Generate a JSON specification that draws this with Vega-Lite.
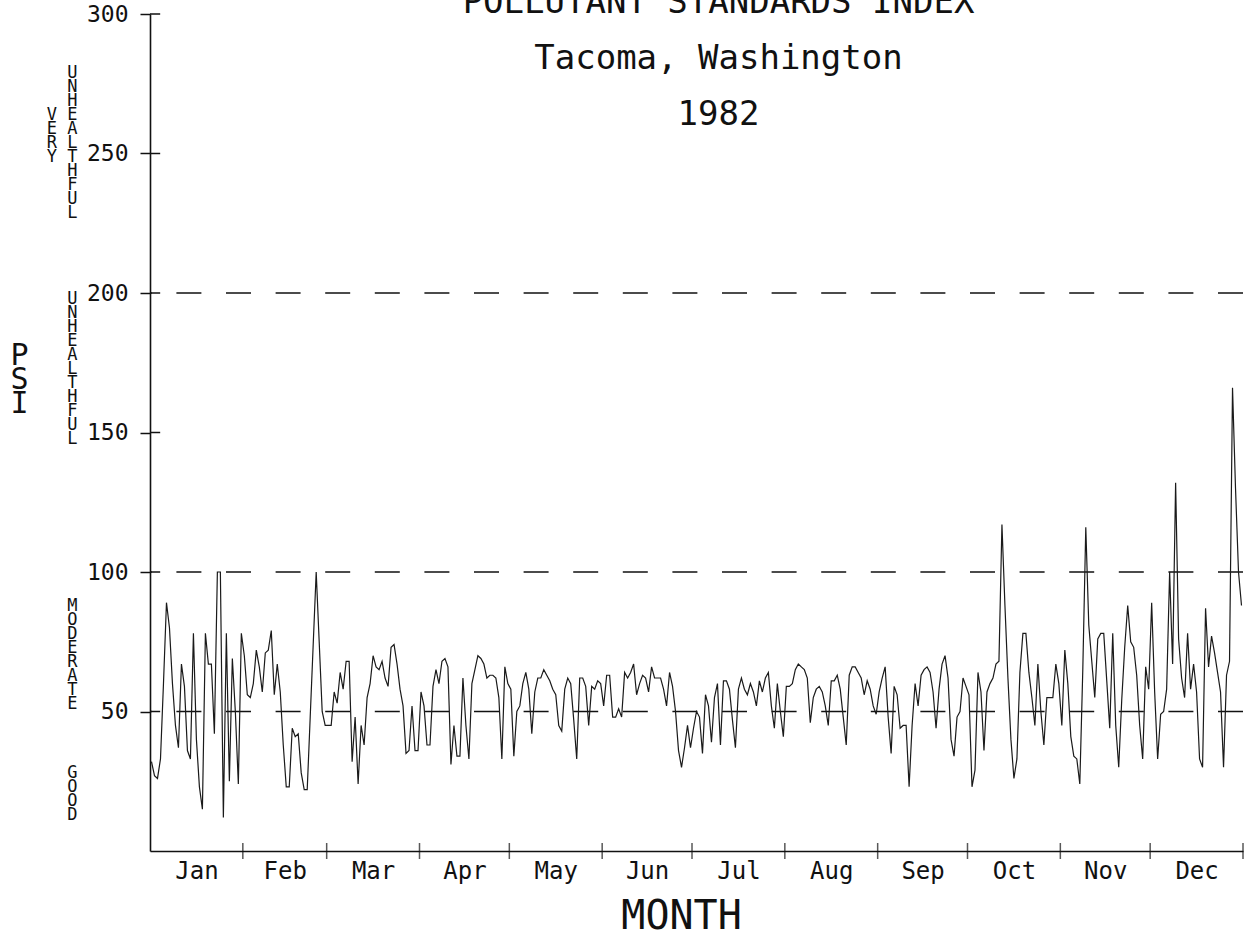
{
  "$schema": "https://vega.github.io/schema/vega-lite/v6.json",
  "width": 1093,
  "height": 837,
  "autosize": {"type": "none"},
  "padding": {"left": 150, "top": 14, "right": 3, "bottom": 87},
  "background": "white",
  "config": {
    "view": {"stroke": null},
    "font": "DejaVu Sans Mono",
    "axis": {"grid": false, "labelColor": "#111", "titleColor": "#111", "domainColor": "#111", "tickColor": "#111", "labelFontWeight": "normal", "titleFontWeight": "normal"}
  },
  "title": {
    "text": ["POLLUTANT STANDARDS INDEX", "Tacoma, Washington", "1982"],
    "font": "DejaVu Sans Mono",
    "fontSize": 34,
    "fontWeight": "normal",
    "color": "#111",
    "lineHeight": 56,
    "anchor": "middle",
    "frame": "group",
    "baseline": "bottom",
    "offset": -163,
    "dx": 22
  },
  "datasets": {
    "psi": [
      {"day":1,"psi":32},{"day":2,"psi":27},{"day":3,"psi":26},{"day":4,"psi":33},{"day":5,"psi":60},{"day":6,"psi":89},{"day":7,"psi":80},{"day":8,"psi":60},{"day":9,"psi":45},{"day":10,"psi":37},
      {"day":11,"psi":67},{"day":12,"psi":59},{"day":13,"psi":36},{"day":14,"psi":33},{"day":15,"psi":78},{"day":16,"psi":40},{"day":17,"psi":23},{"day":18,"psi":15},{"day":19,"psi":78},{"day":20,"psi":67},
      {"day":21,"psi":67},{"day":22,"psi":42},{"day":23,"psi":100},{"day":24,"psi":100},{"day":25,"psi":12},{"day":26,"psi":78},{"day":27,"psi":25},{"day":28,"psi":69},{"day":29,"psi":50},{"day":30,"psi":24},
      {"day":31,"psi":78},{"day":32,"psi":70},{"day":33,"psi":56},{"day":34,"psi":55},{"day":35,"psi":60},{"day":36,"psi":72},{"day":37,"psi":66},{"day":38,"psi":57},{"day":39,"psi":71},{"day":40,"psi":72},
      {"day":41,"psi":79},{"day":42,"psi":56},{"day":43,"psi":67},{"day":44,"psi":57},{"day":45,"psi":38},{"day":46,"psi":23},{"day":47,"psi":23},{"day":48,"psi":44},{"day":49,"psi":41},{"day":50,"psi":42},
      {"day":51,"psi":28},{"day":52,"psi":22},{"day":53,"psi":22},{"day":54,"psi":48},{"day":55,"psi":74},{"day":56,"psi":100},{"day":57,"psi":75},{"day":58,"psi":50},{"day":59,"psi":45},{"day":60,"psi":45},
      {"day":61,"psi":45},{"day":62,"psi":57},{"day":63,"psi":53},{"day":64,"psi":64},{"day":65,"psi":58},{"day":66,"psi":68},{"day":67,"psi":68},{"day":68,"psi":32},{"day":69,"psi":48},{"day":70,"psi":24},
      {"day":71,"psi":45},{"day":72,"psi":38},{"day":73,"psi":55},{"day":74,"psi":60},{"day":75,"psi":70},{"day":76,"psi":66},{"day":77,"psi":65},{"day":78,"psi":68},{"day":79,"psi":62},{"day":80,"psi":59},
      {"day":81,"psi":73},{"day":82,"psi":74},{"day":83,"psi":67},{"day":84,"psi":58},{"day":85,"psi":52},{"day":86,"psi":35},{"day":87,"psi":36},{"day":88,"psi":52},{"day":89,"psi":36},{"day":90,"psi":36},
      {"day":91,"psi":57},{"day":92,"psi":52},{"day":93,"psi":38},{"day":94,"psi":38},{"day":95,"psi":59},{"day":96,"psi":65},{"day":97,"psi":60},{"day":98,"psi":68},{"day":99,"psi":69},{"day":100,"psi":66},
      {"day":101,"psi":31},{"day":102,"psi":45},{"day":103,"psi":34},{"day":104,"psi":34},{"day":105,"psi":62},{"day":106,"psi":45},{"day":107,"psi":33},{"day":108,"psi":60},{"day":109,"psi":65},{"day":110,"psi":70},
      {"day":111,"psi":69},{"day":112,"psi":67},{"day":113,"psi":62},{"day":114,"psi":63},{"day":115,"psi":63},{"day":116,"psi":62},{"day":117,"psi":55},{"day":118,"psi":33},{"day":119,"psi":66},{"day":120,"psi":60},
      {"day":121,"psi":58},{"day":122,"psi":34},{"day":123,"psi":50},{"day":124,"psi":52},{"day":125,"psi":60},{"day":126,"psi":64},{"day":127,"psi":58},{"day":128,"psi":42},{"day":129,"psi":57},{"day":130,"psi":62},
      {"day":131,"psi":62},{"day":132,"psi":65},{"day":133,"psi":63},{"day":134,"psi":61},{"day":135,"psi":58},{"day":136,"psi":56},{"day":137,"psi":45},{"day":138,"psi":43},{"day":139,"psi":58},{"day":140,"psi":62},
      {"day":141,"psi":60},{"day":142,"psi":47},{"day":143,"psi":33},{"day":144,"psi":62},{"day":145,"psi":62},{"day":146,"psi":59},{"day":147,"psi":45},{"day":148,"psi":59},{"day":149,"psi":58},{"day":150,"psi":61},
      {"day":151,"psi":60},{"day":152,"psi":52},{"day":153,"psi":63},{"day":154,"psi":63},{"day":155,"psi":48},{"day":156,"psi":48},{"day":157,"psi":51},{"day":158,"psi":48},{"day":159,"psi":64},{"day":160,"psi":62},
      {"day":161,"psi":64},{"day":162,"psi":67},{"day":163,"psi":56},{"day":164,"psi":60},{"day":165,"psi":63},{"day":166,"psi":62},{"day":167,"psi":57},{"day":168,"psi":66},{"day":169,"psi":62},{"day":170,"psi":62},
      {"day":171,"psi":62},{"day":172,"psi":58},{"day":173,"psi":52},{"day":174,"psi":64},{"day":175,"psi":59},{"day":176,"psi":50},{"day":177,"psi":36},{"day":178,"psi":30},{"day":179,"psi":37},{"day":180,"psi":45},
      {"day":181,"psi":37},{"day":182,"psi":44},{"day":183,"psi":50},{"day":184,"psi":48},{"day":185,"psi":35},{"day":186,"psi":56},{"day":187,"psi":52},{"day":188,"psi":39},{"day":189,"psi":55},{"day":190,"psi":60},
      {"day":191,"psi":38},{"day":192,"psi":61},{"day":193,"psi":61},{"day":194,"psi":58},{"day":195,"psi":47},{"day":196,"psi":37},{"day":197,"psi":58},{"day":198,"psi":62},{"day":199,"psi":58},{"day":200,"psi":56},
      {"day":201,"psi":60},{"day":202,"psi":57},{"day":203,"psi":52},{"day":204,"psi":61},{"day":205,"psi":57},{"day":206,"psi":62},{"day":207,"psi":64},{"day":208,"psi":52},{"day":209,"psi":44},{"day":210,"psi":60},
      {"day":211,"psi":50},{"day":212,"psi":41},{"day":213,"psi":59},{"day":214,"psi":59},{"day":215,"psi":60},{"day":216,"psi":65},{"day":217,"psi":67},{"day":218,"psi":66},{"day":219,"psi":65},{"day":220,"psi":62},
      {"day":221,"psi":46},{"day":222,"psi":55},{"day":223,"psi":58},{"day":224,"psi":59},{"day":225,"psi":57},{"day":226,"psi":52},{"day":227,"psi":45},{"day":228,"psi":61},{"day":229,"psi":61},{"day":230,"psi":63},
      {"day":231,"psi":58},{"day":232,"psi":48},{"day":233,"psi":38},{"day":234,"psi":63},{"day":235,"psi":66},{"day":236,"psi":66},{"day":237,"psi":64},{"day":238,"psi":62},{"day":239,"psi":56},{"day":240,"psi":61},
      {"day":241,"psi":58},{"day":242,"psi":52},{"day":243,"psi":49},{"day":244,"psi":57},{"day":245,"psi":62},{"day":246,"psi":66},{"day":247,"psi":48},{"day":248,"psi":35},{"day":249,"psi":59},{"day":250,"psi":56},
      {"day":251,"psi":44},{"day":252,"psi":45},{"day":253,"psi":45},{"day":254,"psi":23},{"day":255,"psi":45},{"day":256,"psi":60},{"day":257,"psi":52},{"day":258,"psi":63},{"day":259,"psi":65},{"day":260,"psi":66},
      {"day":261,"psi":64},{"day":262,"psi":57},{"day":263,"psi":44},{"day":264,"psi":58},{"day":265,"psi":67},{"day":266,"psi":70},{"day":267,"psi":62},{"day":268,"psi":40},{"day":269,"psi":34},{"day":270,"psi":48},
      {"day":271,"psi":50},{"day":272,"psi":62},{"day":273,"psi":59},{"day":274,"psi":56},{"day":275,"psi":23},{"day":276,"psi":29},{"day":277,"psi":64},{"day":278,"psi":57},{"day":279,"psi":36},{"day":280,"psi":57},
      {"day":281,"psi":60},{"day":282,"psi":62},{"day":283,"psi":67},{"day":284,"psi":68},{"day":285,"psi":117},{"day":286,"psi":88},{"day":287,"psi":62},{"day":288,"psi":40},{"day":289,"psi":26},{"day":290,"psi":33},
      {"day":291,"psi":64},{"day":292,"psi":78},{"day":293,"psi":78},{"day":294,"psi":64},{"day":295,"psi":55},{"day":296,"psi":45},{"day":297,"psi":67},{"day":298,"psi":50},{"day":299,"psi":38},{"day":300,"psi":55},
      {"day":301,"psi":55},{"day":302,"psi":55},{"day":303,"psi":67},{"day":304,"psi":60},{"day":305,"psi":45},{"day":306,"psi":72},{"day":307,"psi":60},{"day":308,"psi":41},{"day":309,"psi":34},{"day":310,"psi":33},
      {"day":311,"psi":24},{"day":312,"psi":65},{"day":313,"psi":116},{"day":314,"psi":81},{"day":315,"psi":68},{"day":316,"psi":55},{"day":317,"psi":76},{"day":318,"psi":78},{"day":319,"psi":78},{"day":320,"psi":61},
      {"day":321,"psi":44},{"day":322,"psi":78},{"day":323,"psi":45},{"day":324,"psi":30},{"day":325,"psi":54},{"day":326,"psi":73},{"day":327,"psi":88},{"day":328,"psi":75},{"day":329,"psi":73},{"day":330,"psi":63},
      {"day":331,"psi":45},{"day":332,"psi":33},{"day":333,"psi":66},{"day":334,"psi":58},{"day":335,"psi":89},{"day":336,"psi":57},{"day":337,"psi":33},{"day":338,"psi":49},{"day":339,"psi":50},{"day":340,"psi":58},
      {"day":341,"psi":100},{"day":342,"psi":67},{"day":343,"psi":132},{"day":344,"psi":76},{"day":345,"psi":62},{"day":346,"psi":55},{"day":347,"psi":78},{"day":348,"psi":58},{"day":349,"psi":67},{"day":350,"psi":57},
      {"day":351,"psi":33},{"day":352,"psi":30},{"day":353,"psi":87},{"day":354,"psi":66},{"day":355,"psi":77},{"day":356,"psi":71},{"day":357,"psi":64},{"day":358,"psi":57},{"day":359,"psi":30},{"day":360,"psi":63},
      {"day":361,"psi":68},{"day":362,"psi":166},{"day":363,"psi":130},{"day":364,"psi":100},{"day":365,"psi":88}
    ],
    "levels": [{"level": 50}, {"level": 100}, {"level": 200}],
    "monthEnds": [{"b": 31.5}, {"b": 59.5}, {"b": 90.5}, {"b": 120.5}, {"b": 151.5}, {"b": 181.5}, {"b": 212.5}, {"b": 243.5}, {"b": 273.5}, {"b": 304.5}, {"b": 334.5}, {"b": 365.5}],
    "yticks": [{"t": 50}, {"t": 100}, {"t": 150}, {"t": 200}, {"t": 250}, {"t": 300}],
    "cats": [{"c": 28}, {"c": 88}, {"c": 198}, {"c": 279}]
  },
  "layer": [
    {
      "data": {"name": "levels"},
      "mark": {"type": "rule", "color": "#111", "strokeWidth": 1.5, "strokeDash": [25, 24.6]},
      "encoding": {
        "y": {"field": "level", "type": "quantitative", "scale": {"domain": [0, 300], "nice": false, "zero": true}, "axis": null}
      }
    },
    {
      "data": {"name": "psi"},
      "mark": {"type": "line", "color": "#1a1a1a", "strokeWidth": 1.2},
      "encoding": {
        "x": {
          "field": "day", "type": "quantitative",
          "scale": {"domain": [0.5, 365.5], "nice": false, "zero": false},
          "axis": {
            "values": [16, 45.5, 75, 105.5, 136, 166.5, 197, 228, 258.5, 289, 319.5, 350],
            "labelExpr": "['Jan','Feb','Mar','Apr','May','Jun','Jul','Aug','Sep','Oct','Nov','Dec'][floor((datum.value - 0.5) / 30.42)]",
            "ticks": false,
            "labelFontSize": 24,
            "labelFont": "DejaVu Sans Mono",
            "labelPadding": 8,
            "labelFlush": false,
            "labelOverlap": false,
            "domainWidth": 1.6,
            "title": "MONTH",
            "titleFont": "DejaVu Sans Mono",
            "titleFontSize": 40,
            "titlePadding": 13,
            "titleX": 531,
            "titleAlign": "center"
          }
        },
        "y": {
          "field": "psi", "type": "quantitative",
          "scale": {"domain": [0, 300], "nice": false, "zero": true},
          "axis": {
            "values": [50, 100, 150, 200, 250, 300],
            "tickSize": 10,
            "tickWidth": 1.5,
            "labelFontSize": 23,
            "labelFont": "DejaVu Sans Mono",
            "labelPadding": 12,
            "labelFlush": false,
            "labelOverlap": false,
            "domainWidth": 1.6,
            "title": ["P", "S", "I"],
            "titleFont": "DejaVu Sans Mono",
            "titleFontSize": 30,
            "titleAngle": 0,
            "titleLineHeight": 24,
            "titleAlign": "center",
            "titleBaseline": "middle",
            "titleX": -131,
            "titleY": 341
          }
        }
      }
    },
    {
      "data": {"name": "monthEnds"},
      "mark": {"type": "tick", "orient": "vertical", "color": "#111", "size": 16, "thickness": 1.5},
      "encoding": {
        "x": {"field": "b", "type": "quantitative", "scale": {"domain": [0.5, 365.5], "nice": false, "zero": false}, "axis": null},
        "y": {"datum": 0, "type": "quantitative", "scale": {"domain": [0, 300], "nice": false, "zero": true}, "axis": null}
      }
    },
    {
      "data": {"name": "yticks"},
      "mark": {"type": "rule", "color": "#111", "strokeWidth": 1.5},
      "encoding": {
        "x": {"datum": 0.5, "type": "quantitative", "scale": {"domain": [0.5, 365.5], "nice": false, "zero": false}, "axis": null},
        "x2": {"datum": 3.9},
        "y": {"field": "t", "type": "quantitative", "scale": {"domain": [0, 300], "nice": false, "zero": true}, "axis": null}
      }
    },
    {
      "data": {"name": "cats"},
      "mark": {"type": "point", "opacity": 0},
      "encoding": {
        "x": {"datum": 1, "type": "quantitative", "scale": {"domain": [0.5, 365.5], "nice": false, "zero": false}, "axis": null},
        "y": {
          "field": "c", "type": "quantitative",
          "scale": {"domain": [0, 300], "nice": false, "zero": true},
          "axis": {
            "orient": "left",
            "values": [28, 88, 198, 279],
            "ticks": false,
            "domain": false,
            "labelPadding": 73,
            "labelAlign": "right",
            "labelBaseline": "middle",
            "labelFont": "DejaVu Sans Mono",
            "labelFontSize": 17,
            "labelLineHeight": 14,
            "labelFlush": false,
            "labelOverlap": false,
            "title": null,
            "labelExpr": "datum.value == 279 ? ['\u00a0\u00a0U','\u00a0\u00a0N','\u00a0\u00a0H','V\u00a0E','E\u00a0A','R\u00a0L','Y\u00a0T','\u00a0\u00a0H','\u00a0\u00a0F','\u00a0\u00a0U','\u00a0\u00a0L'] : datum.value == 198 ? ['U','N','H','E','A','L','T','H','F','U','L'] : datum.value == 88 ? ['M','O','D','E','R','A','T','E'] : ['G','O','O','D']"
          }
        }
      }
    }
  ],
  "resolve": {"axis": {"x": "independent", "y": "independent"}}
}
